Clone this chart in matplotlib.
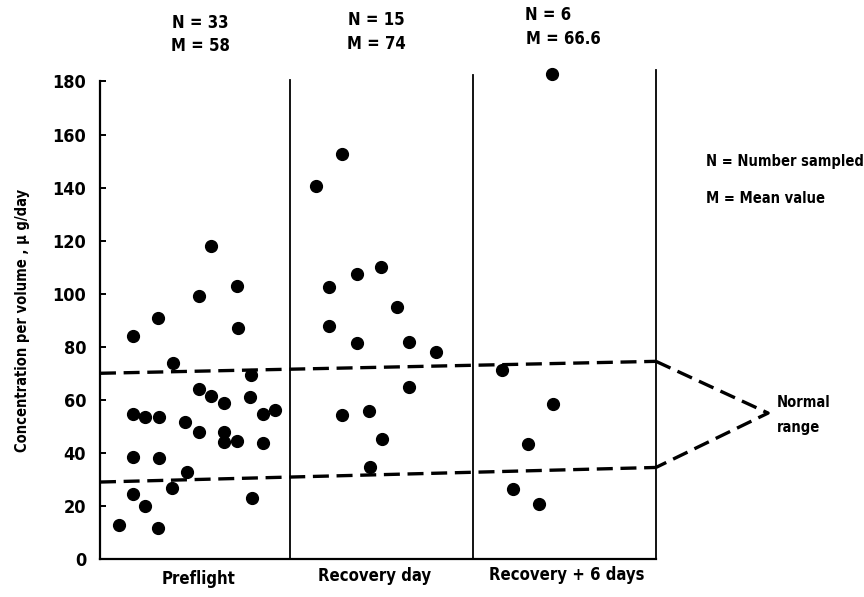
import matplotlib
matplotlib.use("Agg")
import matplotlib.pyplot as plt

plt.rcParams['font.family'] = ['DejaVu Sans']
plt.rcParams['font.weight'] = 'bold'
plt.rcParams['font.stretch'] = 'condensed'
plt.rcParams['axes.labelweight'] = 'bold'

# ---- data ----
groups = ["Preflight", "Recovery day", "Recovery + 6 days"]
n_sampled = ["33", "15", "6"]
mean_vals = ["58", "74", "66.6"]

pre_x = [0.597, 0.741, 0.533, 0.311, 0.176, 0.743, 0.392, 0.815, 0.533, 0.599,
         0.671, 0.810, 0.176, 0.243, 0.320, 0.944, 0.878, 0.460, 0.533, 0.671,
         0.668, 0.739, 0.878, 0.180, 0.320, 0.468, 0.387, 0.176, 0.243, 0.819,
         0.103, 0.315]
pre_y = [118, 103, 99, 91, 84, 87, 74, 69.4, 64, 61.4,
         58.7, 61.2, 54.5, 53.6, 53.6, 56.2, 54.5, 51.8, 48, 48,
         44, 44.4, 43.6, 38.6, 38, 32.9, 26.9, 24.4, 20.1, 23.1,
         12.8, 11.6]

rec_x = [1.306, 1.166, 1.518, 1.387, 1.236, 1.601, 1.234, 1.385, 1.668, 1.812,
         1.666, 1.308, 1.450, 1.520, 1.455]
rec_y = [152.5, 140.7, 110.2, 107.4, 102.4, 95, 87.9, 81.5, 81.9, 78.1,
         65, 54.3, 55.8, 45.1, 34.6]

rec6_x = [2.441, 2.168, 2.446, 2.311, 2.230, 2.369]
rec6_y = [182.7, 71.2, 58.4, 43.3, 26.3, 20.6]

range_x = [0, 3]
normal_high = [70, 74.5]
normal_low = [29, 34.5]
tip = (3.605, 55)

dividers = [1.025, 2.015, 3.0]
divider_tops = [180.4, 182.4, 184.3]

# ---- figure ----
fig = plt.figure(figsize=(8.64, 5.97), dpi=100)
ax = fig.add_axes([0.1157, 0.0637, 0.6435, 0.7998])
ax.set_xlim(0, 3)
ax.set_ylim(0, 180)

for sp in ['top', 'right']:
    ax.spines[sp].set_visible(False)
for sp in ['left', 'bottom']:
    ax.spines[sp].set_linewidth(1.6)

ax.set_yticks(range(0, 181, 20))
ax.tick_params(axis='y', direction='in', length=4, width=1.4, labelsize=13, pad=10)
ax.set_xticks([])
ax.set_ylabel("Concentration per volume , \u00b5 g/day", fontsize=10.5, labelpad=16)

for xd, top in zip(dividers, divider_tops):
    ax.plot([xd, xd], [0, top], color='black', lw=1.3, clip_on=False)

dash = dict(color='black', lw=2.4, dashes=[4.8, 2.3], clip_on=False)
ax.plot(range_x, normal_high, **dash)
ax.plot(range_x, normal_low, **dash)
ax.plot([range_x[1], tip[0], range_x[1]], [normal_high[1], tip[1], normal_low[1]], **dash)

mk = dict(ls='none', marker='o', ms=8.5, color='black', clip_on=False)
ax.plot(pre_x, pre_y, **mk)
ax.plot(rec_x, rec_y, **mk)
ax.plot(rec6_x, rec6_y, **mk)

# category labels
label_x = [0.53, 1.48, 2.52]
label_y = [-7.5, -6.5, -6.0]
for xl, yl, g in zip(label_x, label_y, groups):
    ax.text(xl, yl, g, ha='center', va='center', fontsize=12)

# N / M headers
hdr_x = [0.54, 1.49, 2.42]
n_y = [202, 203, 205]
m_y = [193.5, 194, 196]
for i in range(3):
    ax.text(hdr_x[i], n_y[i], f"N = {n_sampled[i]}", ha='center', va='center', fontsize=12,
            clip_on=False)
    ax.text(hdr_x[i] + (0.08 if i == 2 else 0), m_y[i], f"M = {mean_vals[i]}", ha='center',
            va='center', fontsize=12, clip_on=False)

ax.text(3.27, 150, "N = Number sampled", ha='left', va='center', fontsize=10.5, clip_on=False)
ax.text(3.27, 136, "M = Mean value", ha='left', va='center', fontsize=10.5, clip_on=False)
ax.text(3.65, 59, "Normal", ha='left', va='center', fontsize=10.5, clip_on=False)
ax.text(3.65, 49.5, "range", ha='left', va='center', fontsize=10.5, clip_on=False)

fig.savefig("out.png", dpi=100)
